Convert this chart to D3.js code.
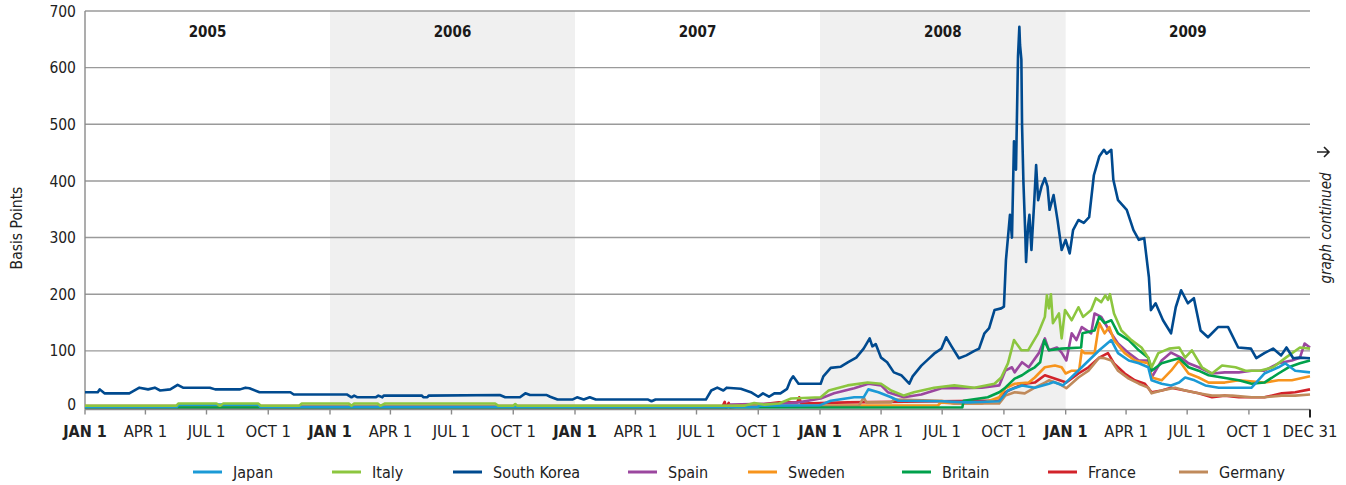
<!DOCTYPE html>
<html>
<head>
<meta charset="utf-8">
<script src="https://cdn.jsdelivr.net/npm/d3@7"></script>
<style>
  body { margin: 0; background: #fff; }
  svg { display: block; font-family: "DejaVu Sans Condensed", "Liberation Sans Narrow", sans-serif; }
</style>
</head>
<body>
<svg id="chart" width="1346" height="485"></svg>
<script>
// CDS spreads, basis points
const years = ["2005", "2006", "2007", "2008", "2009"];
const shadedYears = ["2006", "2008"];
const yTicks = [0, 100, 200, 300, 400, 500, 600, 700];
const countries = ["Japan", "Italy", "South Korea", "Spain", "Sweden", "Britain", "France", "Germany"];
const colors = ["#1b9ad6", "#8cc63f", "#004a8f", "#9b479f", "#f7941d", "#00a14b", "#d2232a", "#c08a5b"];

const japan = [["2005-01-01",1],["2005-05-18",1],["2005-05-20",5],["2005-09-16",5],["2005-09-19",1],["2007-09-30",1],["2007-10-03",3],["2007-12-31",4],["2008-01-03",5],["2008-01-17",12],["2008-02-21",18],["2008-03-06",18],["2008-03-13",32],["2008-03-28",27],["2008-04-16",18],["2008-04-27",12],["2008-06-30",11],["2008-08-08",9],["2008-09-24",11],["2008-10-07",30],["2008-10-28",39],["2008-11-16",35],["2008-12-07",42],["2008-12-14",45],["2008-12-28",39],["2009-01-25",71],["2009-02-20",101],["2009-03-10",119],["2009-03-20",96],["2009-04-05",83],["2009-04-20",78],["2009-05-04",71],["2009-05-09",48],["2009-05-24",42],["2009-06-07",39],["2009-06-19",44],["2009-06-28",53],["2009-07-12",48],["2009-07-28",39],["2009-08-17",35],["2009-10-05",35],["2009-10-24",60],["2009-11-14",71],["2009-11-24",78],["2009-12-09",65],["2009-12-31",62]];

const italy = [["2005-01-01",3],["2005-05-17",3],["2005-05-20",7],["2005-07-16",7],["2005-07-21",3],["2005-07-26",7],["2005-09-16",7],["2005-09-20",3],["2005-11-16",3],["2005-11-20",7],["2006-01-29",7],["2006-02-02",3],["2006-02-06",7],["2006-03-13",7],["2006-03-17",3],["2006-03-24",7],["2006-09-04",7],["2006-09-09",3],["2006-10-01",3],["2006-10-04",6],["2006-10-07",3],["2007-09-10",3],["2007-09-25",8],["2007-10-10",5],["2007-11-01",7],["2007-11-19",16],["2008-01-02",18],["2008-01-14",30],["2008-02-11",39],["2008-03-12",44],["2008-04-01",42],["2008-04-16",30],["2008-05-05",21],["2008-05-20",27],["2008-06-19",35],["2008-07-19",39],["2008-08-18",35],["2008-09-17",42],["2008-09-27",53],["2008-10-07",78],["2008-10-16",119],["2008-10-27",101],["2008-11-06",101],["2008-11-21",131],["2008-12-01",160],["2008-12-04",198],["2008-12-07",175],["2008-12-10",200],["2008-12-13",149],["2008-12-22",166],["2008-12-26",122],["2008-12-31",172],["2009-01-10",154],["2009-01-20",177],["2009-01-27",160],["2009-02-08",172],["2009-02-15",193],["2009-02-23",186],["2009-03-01",198],["2009-03-05",190],["2009-03-08",200],["2009-03-14",166],["2009-03-25",136],["2009-04-09",119],["2009-04-24",106],["2009-05-04",88],["2009-05-09",71],["2009-05-19",96],["2009-06-04",104],["2009-06-19",106],["2009-06-28",88],["2009-07-08",101],["2009-07-23",71],["2009-08-07",60],["2009-08-22",74],["2009-09-11",71],["2009-09-26",65],["2009-10-17",65],["2009-11-06",71],["2009-11-25",88],["2009-12-16",106],["2009-12-31",104]];

const southKorea = [["2005-01-01",27],["2005-01-20",27],["2005-01-23",32],["2005-01-30",25],["2005-03-08",25],["2005-03-23",35],["2005-04-05",32],["2005-04-15",35],["2005-04-23",30],["2005-05-08",32],["2005-05-19",40],["2005-05-27",35],["2005-07-06",35],["2005-07-14",32],["2005-08-20",32],["2005-08-28",35],["2005-09-03",34],["2005-09-18",27],["2005-11-03",27],["2005-11-08",23],["2006-01-26",23],["2006-02-02",18],["2006-02-06",21],["2006-02-11",18],["2006-03-10",18],["2006-03-14",21],["2006-03-20",18],["2006-03-22",21],["2006-05-18",21],["2006-05-20",18],["2006-05-26",18],["2006-05-28",21],["2006-09-11",22],["2006-09-19",18],["2006-10-11",18],["2006-10-19",25],["2006-10-26",22],["2006-11-20",22],["2006-11-25",19],["2006-12-06",14],["2006-12-28",14],["2007-01-04",18],["2007-01-14",14],["2007-01-23",18],["2007-02-01",14],["2007-04-20",14],["2007-04-25",11],["2007-05-01",14],["2007-07-15",14],["2007-07-23",30],["2007-08-01",35],["2007-08-10",30],["2007-08-15",35],["2007-09-05",33],["2007-09-20",27],["2007-10-01",19],["2007-10-08",25],["2007-10-17",19],["2007-10-25",25],["2007-11-03",25],["2007-11-13",33],["2007-11-18",48],["2007-11-22",55],["2007-11-30",42],["2007-12-18",42],["2008-01-02",42],["2008-01-06",55],["2008-01-17",70],["2008-02-01",72],["2008-02-12",80],["2008-02-24",88],["2008-03-06",104],["2008-03-10",112],["2008-03-15",122],["2008-03-19",108],["2008-03-24",112],["2008-04-01",88],["2008-04-10",80],["2008-04-20",62],["2008-05-01",57],["2008-05-13",42],["2008-05-18",55],["2008-05-31",74],["2008-06-10",85],["2008-06-19",95],["2008-06-30",104],["2008-07-07",124],["2008-07-15",108],["2008-07-26",87],["2008-08-06",92],["2008-08-18",100],["2008-08-25",104],["2008-09-02",131],["2008-09-09",140],["2008-09-17",172],["2008-09-27",175],["2008-10-01",178],["2008-10-04",260],["2008-10-07",300],["2008-10-10",340],["2008-10-13",300],["2008-10-16",470],["2008-10-19",420],["2008-10-22",620],["2008-10-24",672],["2008-10-25",640],["2008-10-27",614],["2008-10-28",500],["2008-10-30",400],["2008-11-02",300],["2008-11-03",257],["2008-11-06",320],["2008-11-08",340],["2008-11-11",278],["2008-11-15",360],["2008-11-18",428],["2008-11-21",366],["2008-11-26",390],["2008-12-01",405],["2008-12-05",390],["2008-12-08",349],["2008-12-14",375],["2008-12-20",330],["2008-12-26",278],["2009-01-01",296],["2009-01-07",272],["2009-01-12",313],["2009-01-20",331],["2009-01-28",326],["2009-02-05",336],["2009-02-12",410],["2009-02-20",443],["2009-02-27",455],["2009-03-03",448],["2009-03-10",455],["2009-03-13",402],["2009-03-20",366],["2009-04-02",349],["2009-04-12",313],["2009-04-20",296],["2009-04-28",299],["2009-05-05",230],["2009-05-08",172],["2009-05-15",184],["2009-05-26",154],["2009-06-07",131],["2009-06-14",177],["2009-06-22",207],["2009-07-02",184],["2009-07-11",193],["2009-07-21",136],["2009-08-01",124],["2009-08-16",142],["2009-08-31",142],["2009-09-15",106],["2009-10-04",104],["2009-10-12",87],["2009-10-24",96],["2009-11-06",104],["2009-11-18",92],["2009-11-26",106],["2009-12-06",87],["2009-12-15",88],["2009-12-31",87]];

const spain = [["2005-01-01",0],["2007-08-15",0],["2007-08-20",5],["2007-11-01",7],["2007-11-30",9],["2008-01-02",16],["2008-01-22",25],["2008-02-21",34],["2008-03-13",42],["2008-04-01",39],["2008-04-11",27],["2008-05-05",18],["2008-05-31",23],["2008-06-30",34],["2008-07-30",34],["2008-08-29",35],["2008-09-24",39],["2008-10-03",65],["2008-10-13",71],["2008-10-17",62],["2008-10-28",80],["2008-11-07",71],["2008-11-22",96],["2008-12-01",122],["2008-12-07",101],["2008-12-19",106],["2008-12-26",97],["2009-01-02",83],["2009-01-10",131],["2009-01-17",119],["2009-01-25",142],["2009-02-08",131],["2009-02-13",166],["2009-02-23",160],["2009-03-07",136],["2009-03-20",113],["2009-04-05",96],["2009-04-20",83],["2009-05-04",83],["2009-05-09",53],["2009-05-24",83],["2009-06-07",97],["2009-06-22",88],["2009-07-03",78],["2009-07-18",71],["2009-08-07",60],["2009-08-26",62],["2009-09-16",62],["2009-10-05",65],["2009-10-24",65],["2009-11-14",78],["2009-12-04",83],["2009-12-16",88],["2009-12-23",113],["2009-12-31",106]];

const sweden = [["2005-01-01",1],["2007-08-15",1],["2007-09-01",3],["2008-06-25",4],["2008-06-29",9],["2008-07-19",7],["2008-08-29",7],["2008-09-24",18],["2008-10-03",34],["2008-10-17",42],["2008-11-07",44],["2008-11-16",53],["2008-12-01",71],["2008-12-16",74],["2008-12-26",71],["2009-01-01",60],["2009-01-10",65],["2009-01-21",65],["2009-01-25",101],["2009-01-29",96],["2009-02-13",96],["2009-02-20",149],["2009-02-28",131],["2009-03-07",142],["2009-03-14",119],["2009-03-30",96],["2009-04-14",83],["2009-05-04",78],["2009-05-09",53],["2009-05-24",48],["2009-06-07",65],["2009-06-19",83],["2009-07-03",60],["2009-07-18",53],["2009-08-02",44],["2009-08-26",44],["2009-09-16",48],["2009-10-24",44],["2009-11-14",48],["2009-12-04",48],["2009-12-31",55]];

const britain = [["2005-01-01",0],["2008-07-31",0],["2008-08-02",12],["2008-09-07",18],["2008-09-24",27],["2008-10-03",35],["2008-10-17",51],["2008-10-28",57],["2008-11-07",65],["2008-11-16",71],["2008-11-24",80],["2008-11-30",119],["2008-12-07",101],["2008-12-26",104],["2009-01-24",106],["2009-01-26",131],["2009-02-13",136],["2009-02-20",160],["2009-02-28",149],["2009-03-10",154],["2009-03-20",131],["2009-04-05",119],["2009-04-20",101],["2009-05-04",88],["2009-05-09",65],["2009-05-24",78],["2009-06-07",83],["2009-06-19",87],["2009-07-03",71],["2009-07-18",65],["2009-08-02",57],["2009-08-22",53],["2009-09-16",48],["2009-10-05",42],["2009-10-24",44],["2009-11-14",60],["2009-11-29",71],["2009-12-16",78],["2009-12-31",83]];

const france = [["2005-01-01",0],["2007-08-08",0],["2007-08-12",10],["2007-08-14",0],["2007-08-18",8],["2007-08-20",0],["2007-09-01",2],["2007-10-01",5],["2007-11-01",9],["2007-11-28",9],["2007-12-01",18],["2007-12-04",7],["2008-02-12",9],["2008-08-29",12],["2008-09-24",12],["2008-10-03",27],["2008-10-17",35],["2008-11-01",42],["2008-11-16",44],["2008-12-01",57],["2008-12-11",53],["2009-01-02",44],["2009-01-20",60],["2009-02-04",71],["2009-02-20",88],["2009-03-05",96],["2009-03-14",78],["2009-03-30",60],["2009-04-14",48],["2009-04-29",42],["2009-05-09",27],["2009-05-24",30],["2009-06-07",35],["2009-06-28",30],["2009-07-18",25],["2009-08-07",18],["2009-08-26",21],["2009-09-16",18],["2009-10-24",18],["2009-11-19",25],["2009-12-09",27],["2009-12-31",32]];

const germany = [["2005-01-01",3],["2008-02-28",3],["2008-03-06",18],["2008-03-10",9],["2008-04-16",9],["2008-04-20",14],["2008-06-30",12],["2008-07-19",7],["2008-09-24",7],["2008-10-03",21],["2008-10-17",27],["2008-11-01",25],["2008-11-16",35],["2008-12-01",44],["2008-12-07",48],["2008-12-22",42],["2009-01-02",34],["2009-01-20",53],["2009-02-04",65],["2009-02-20",88],["2009-02-28",87],["2009-03-10",83],["2009-03-20",65],["2009-04-05",51],["2009-04-20",42],["2009-05-04",35],["2009-05-09",25],["2009-05-24",30],["2009-06-13",35],["2009-06-28",30],["2009-07-18",25],["2009-08-07",21],["2009-09-06",21],["2009-10-05",18],["2009-10-24",18],["2009-11-19",21],["2009-12-09",21],["2009-12-31",23]];

const seriesData = [japan, italy, southKorea, spain, sweden, britain, france, germany];
// drawing order, back to front
const drawOrder = ["France", "Spain", "Sweden", "Germany", "Britain", "Japan", "Italy", "South Korea"];

const parse = d3.timeParse("%Y-%m-%d");
const svg = d3.select("#chart");

const plotLeft = 85, plotRight = 1310, plotTop = 11, zeroY = 407.5, axisY = 409.5;
const x = d3.scaleTime()
  .domain([new Date(2005, 0, 1), new Date(2009, 11, 31)])
  .range([plotLeft, plotRight]);
const y = d3.scaleLinear().domain([0, 700]).range([zeroY, plotTop]);

// year bands
years.forEach(yr => {
  const y0 = +yr;
  const x0 = x(new Date(y0, 0, 1));
  const x1 = Math.min(plotRight, x(new Date(y0 + 1, 0, 1)));
  if (shadedYears.includes(yr)) {
    svg.append("rect")
      .attr("x", x0).attr("y", plotTop)
      .attr("width", x1 - x0).attr("height", axisY - plotTop)
      .attr("fill", "#f0f0f0");
  }
  svg.append("text")
    .attr("x", (x0 + x1) / 2).attr("y", 37)
    .attr("text-anchor", "middle")
    .attr("font-size", "15px").attr("font-weight", "bold")
    .attr("fill", "#1a1a1a")
    .text(yr);
});

// gridlines
svg.append("g").selectAll("line")
  .data(yTicks.filter(d => d > 0))
  .join("line")
  .attr("x1", plotLeft).attr("x2", plotRight)
  .attr("y1", d => y(d)).attr("y2", d => y(d))
  .attr("stroke", "#9a9a9a").attr("stroke-width", 1.4);

// y labels
svg.append("g").selectAll("text")
  .data(yTicks)
  .join("text")
  .attr("x", 76).attr("y", d => d === 0 ? y(d) - 3 : y(d))
  .attr("dy", "0.36em")
  .attr("text-anchor", "end")
  .attr("font-size", "15.5px").attr("fill", "#222")
  .text(d => d);

svg.append("text")
  .attr("transform", "translate(22,228) rotate(-90)")
  .attr("text-anchor", "middle")
  .attr("font-size", "15.5px").attr("fill", "#222")
  .text("Basis Points");

// left axis line
svg.append("line")
  .attr("x1", plotLeft).attr("x2", plotLeft).attr("y1", plotTop).attr("y2", axisY)
  .attr("stroke", "#8a8a8a").attr("stroke-width", 1.4);

// lines
const line = d3.line()
  .x(d => x(parse(d[0])))
  .y(d => y(d[1]));

drawOrder.forEach(name => {
  const i = countries.indexOf(name);
  svg.append("path")
    .datum(seriesData[i])
    .attr("d", line)
    .attr("fill", "none")
    .attr("stroke", colors[i])
    .attr("stroke-width", 2.6)
    .attr("stroke-linejoin", "round");
});

// x axis
const endDate = new Date(2009, 11, 31);
const tickDates = d3.timeMonths(new Date(2005, 0, 1), endDate, 3).concat([endDate]);
const monthNames = ["JAN", "FEB", "MAR", "APR", "MAY", "JUN", "JUL", "AUG", "SEP", "OCT", "NOV", "DEC"];

svg.append("line")
  .attr("x1", plotLeft).attr("x2", plotRight).attr("y1", axisY).attr("y2", axisY)
  .attr("stroke", "#8a8a8a").attr("stroke-width", 1.4);

const xt = svg.append("g").selectAll("g")
  .data(tickDates)
  .join("g")
  .attr("transform", d => `translate(${x(d)},0)`);

xt.append("line")
  .attr("y1", axisY).attr("y2", d => d === endDate ? axisY + 8 : axisY + 5)
  .attr("stroke", d => d === endDate ? "#222" : "#8a8a8a")
  .attr("stroke-width", d => d === endDate ? 2 : 1.4);

xt.append("text")
  .attr("y", 437)
  .attr("text-anchor", "middle")
  .attr("font-size", d => d.getMonth() === 0 && d !== endDate ? "16px" : "16.5px")
  .attr("font-weight", d => d.getMonth() === 0 && d !== endDate ? "bold" : "normal")
  .attr("fill", "#222")
  .text(d => d === endDate ? "DEC 31" : monthNames[d.getMonth()] + " " + d.getDate());

// graph continued note
svg.append("text")
  .attr("transform", "translate(1331,228) rotate(-90)")
  .attr("text-anchor", "middle")
  .attr("font-size", "15px").attr("font-style", "italic").attr("fill", "#222")
  .text("graph continued");

svg.append("path")
  .attr("d", "M1317,152H1329M1324,147L1329,152L1324,157")
  .attr("fill", "none")
  .attr("stroke", "#222").attr("stroke-width", 1.6);

// legend
const legendX = [193, 332, 453, 628, 748, 902, 1048, 1179];
const lg = svg.append("g").selectAll("g")
  .data(countries)
  .join("g")
  .attr("transform", (d, i) => `translate(${legendX[i]},472)`);

lg.append("line")
  .attr("x1", 0).attr("x2", 29)
  .attr("stroke", (d, i) => colors[i]).attr("stroke-width", 3);

lg.append("text")
  .attr("x", 40).attr("y", 6)
  .attr("font-size", "16px").attr("fill", "#222")
  .text(d => d);
</script>
</body>
</html>
